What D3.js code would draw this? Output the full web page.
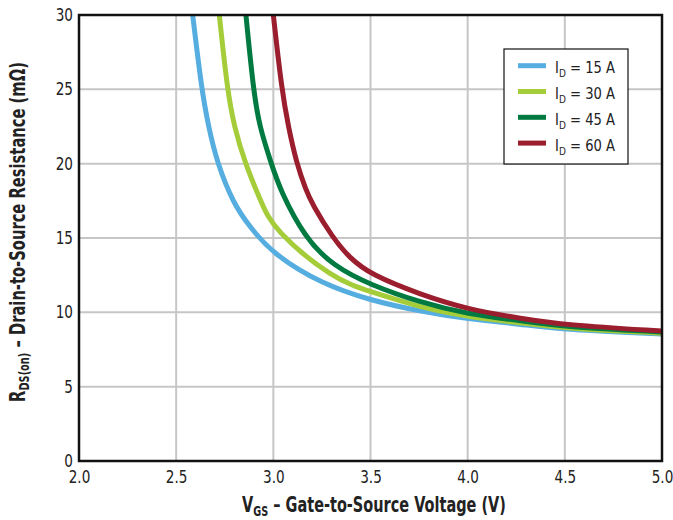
<!DOCTYPE html>
<html>
<head>
<meta charset="utf-8">
<script src="https://cdn.jsdelivr.net/npm/d3@7"></script>
<style>
  body { margin: 0; background: #fff; }
  svg { display: block; font-family: "DejaVu Sans", sans-serif; }
</style>
</head>
<body>
<svg id="chart" width="673" height="520"></svg>
<script>
// series labels (drain current) and colours
const SERIES = ["15 A", "30 A", "45 A", "60 A"];
const COLORS = ["#56ade0", "#a5cd3a", "#007a40", "#9a1e2e"];

// V_GS (V) and R_DS(on) (mOhm)
const VGS_15 = [2.585, 2.631, 2.666, 2.712, 2.794, 2.88, 3.00, 3.25, 3.50, 3.755, 4.00, 4.27, 4.50, 5.00];
const RDS_15 = [30, 25, 22.5, 20, 17.33, 15.72, 13.9, 11.9, 10.8, 10.07, 9.55, 9.21, 8.83, 8.54];

const VGS_30 = [2.722, 2.763, 2.798, 2.855, 2.94, 3.00, 3.309, 3.50, 3.755, 4.00, 4.27, 4.50, 5.00];
const RDS_30 = [30, 25, 22.5, 20, 17.33, 15.58, 12.22, 11.39, 10.34, 9.68, 9.3, 8.92, 8.6];

const VGS_45 = [2.859, 2.897, 2.928, 2.99, 3.035, 3.163, 3.309, 3.50, 3.755, 4.00, 4.27, 4.50, 5.00];
const RDS_45 = [30, 25, 22.5, 20, 18.22, 15.0, 13.11, 11.84, 10.67, 9.88, 9.45, 9.02, 8.68];

const VGS_60 = [3.00, 3.043, 3.077, 3.12, 3.168, 3.198, 3.306, 3.395, 3.50, 3.755, 4.00, 4.27, 4.50, 5.00];
const RDS_60 = [30, 25, 22.5, 20, 18.22, 17.33, 15.0, 13.63, 12.55, 11.2, 10.2, 9.6, 9.15, 8.74];

const X_TICKS = [2.0, 2.5, 3.0, 3.5, 4.0, 4.5, 5.0];
const Y_TICKS = [0, 5, 10, 15, 20, 25, 30];

const svg = d3.select("#chart");
const M = { left: 79, top: 15, right: 11, bottom: 59 };
const W = 673 - M.left - M.right;
const H = 520 - M.top - M.bottom;
const NARROW = 0.8;

const xScale = d3.scaleLinear().domain([2, 5]).range([0, W]);
const yScale = d3.scaleLinear().domain([0, 30]).range([H, 0]);

const chart = svg.append("g").attr("transform", `translate(${M.left},${M.top})`);

chart.append("clipPath").attr("id", "plot-clip")
  .append("rect").attr("width", W).attr("height", H);

// grid
chart.append("g").selectAll("line")
  .data(X_TICKS.slice(1, -1)).enter().append("line")
  .attr("x1", d => xScale(d)).attr("x2", d => xScale(d))
  .attr("y1", 0).attr("y2", H)
  .attr("stroke", "#c6c6c6").attr("stroke-width", 2);
chart.append("g").selectAll("line")
  .data(Y_TICKS.slice(1, -1)).enter().append("line")
  .attr("x1", 0).attr("x2", W)
  .attr("y1", d => yScale(d)).attr("y2", d => yScale(d))
  .attr("stroke", "#c6c6c6").attr("stroke-width", 2);

// curves
const series = [
  { label: SERIES[0], color: COLORS[0], x: VGS_15, y: RDS_15 },
  { label: SERIES[1], color: COLORS[1], x: VGS_30, y: RDS_30 },
  { label: SERIES[2], color: COLORS[2], x: VGS_45, y: RDS_45 },
  { label: SERIES[3], color: COLORS[3], x: VGS_60, y: RDS_60 }
];

const line = d3.line()
  .x(d => xScale(d[0]))
  .y(d => yScale(d[1]))
  .curve(d3.curveBasis);

chart.append("g").attr("clip-path", "url(#plot-clip)")
  .selectAll("path")
  .data(series).enter().append("path")
  .attr("d", s => line(d3.zip(s.x, s.y)))
  .attr("fill", "none")
  .attr("stroke", s => s.color)
  .attr("stroke-width", 5);

// frame
chart.append("rect")
  .attr("width", W).attr("height", H)
  .attr("fill", "none").attr("stroke", "#111").attr("stroke-width", 2.5);

// axes (labels squeezed to look like a condensed face)
chart.append("g")
  .attr("transform", `translate(0,${H})`)
  .call(d3.axisBottom(xScale).tickValues(X_TICKS).tickFormat(d3.format(".1f")).tickSize(0).tickPadding(10))
  .call(g => g.select(".domain").remove())
  .call(g => g.selectAll("text")
    .attr("font-size", 17).attr("fill", "#222").attr("font-family", "DejaVu Sans")
    .attr("transform", `scale(${NARROW},1)`));

chart.append("g")
  .call(d3.axisLeft(yScale).tickValues(Y_TICKS).tickSize(0).tickPadding(6 / NARROW))
  .call(g => g.select(".domain").remove())
  .call(g => g.selectAll("text")
    .attr("font-size", 17).attr("fill", "#222").attr("font-family", "DejaVu Sans")
    .attr("transform", `scale(${NARROW},1)`));

// squeeze a text element to a given width around its anchor
function fitWidth(text, width) {
  const w = text.node().getComputedTextLength();
  text.attr("transform", `scale(${width / w},1)`);
}

// axis titles
const xTitleG = svg.append("g").attr("transform", "translate(374,512)");
const xTitle = xTitleG.append("text")
  .attr("text-anchor", "middle")
  .attr("font-size", 21).attr("font-weight", "bold").attr("fill", "#222");
xTitle.append("tspan").text("V");
xTitle.append("tspan").attr("font-size", 14).attr("dy", 4).text("GS");
xTitle.append("tspan").attr("dy", -4).text(" – Gate-to-Source Voltage (V)");
fitWidth(xTitle, 264);

const yTitleG = svg.append("g").attr("transform", "translate(25,232) rotate(-90)");
const yTitle = yTitleG.append("text")
  .attr("text-anchor", "middle")
  .attr("font-size", 21).attr("font-weight", "bold").attr("fill", "#222");
yTitle.append("tspan").text("R");
yTitle.append("tspan").attr("font-size", 14).attr("dy", 4).text("DS(on)");
yTitle.append("tspan").attr("dy", -4).text(" – Drain-to-Source Resistance (mΩ)");
fitWidth(yTitle, 340);

// legend
const legend = svg.append("g").attr("transform", "translate(504,49)");
legend.append("rect")
  .attr("width", 124).attr("height", 115)
  .attr("fill", "#fff").attr("stroke", "#111").attr("stroke-width", 1.2);

const items = legend.selectAll("g.item")
  .data(series).enter().append("g")
  .attr("class", "item")
  .attr("transform", (d, i) => `translate(0,${16.7 + i * 25.8})`);

items.append("line")
  .attr("x1", 14).attr("x2", 42)
  .attr("stroke", d => d.color).attr("stroke-width", 5);

items.append("g").attr("transform", "translate(51,7.5)")
  .append("text")
  .attr("font-size", 16).attr("fill", "#222")
  .each(function (d) {
    const t = d3.select(this);
    t.append("tspan").text("I");
    t.append("tspan").attr("font-size", 11).attr("dy", 4).text("D");
    t.append("tspan").attr("dy", -4).text(" = " + d.label);
    fitWidth(t, 60);
  });
</script>
</body>
</html>
